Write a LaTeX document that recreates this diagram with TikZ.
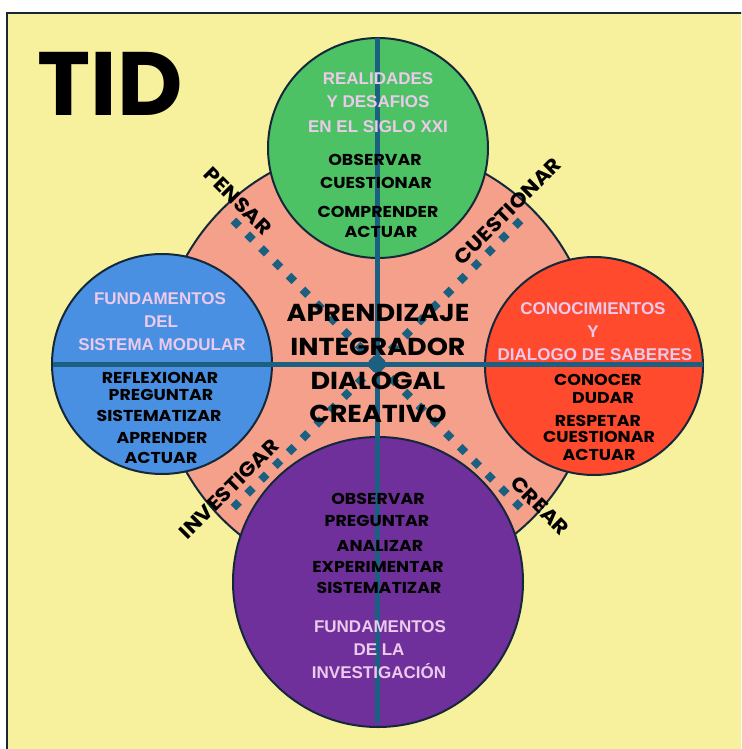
\documentclass[tikz,border=0pt]{standalone}
\usepackage{fontspec}
\setmainfont{Poppins}
\newfontfamily\wide{Poppins}[FakeStretch=1.1]
\newfontfamily\pinkfont{Liberation Sans}
\definecolor{bgyellow}{RGB}{247,240,156}
\definecolor{navy}{RGB}{20,40,58}
\definecolor{salmon}{RGB}{244,160,138}
\definecolor{cgreen}{RGB}{76,194,101}
\definecolor{cblue}{RGB}{74,144,226}
\definecolor{cred}{RGB}{255,74,46}
\definecolor{cpurple}{RGB}{112,48,156}
\definecolor{teal}{RGB}{27,96,128}
\definecolor{pinkc}{RGB}{236,202,236}
\tikzset{
  disc/.style={circle, draw=navy, line width=2pt, inner sep=0pt},
  blk/.style={font=\wide\bfseries\fontsize{15.8}{16}\selectfont, text=black, inner sep=0pt, text height=11pt, text depth=0pt},
  pnk/.style={font=\pinkfont\bfseries\fontsize{17}{18}\selectfont, text=pinkc, inner sep=0pt, text height=12pt, text depth=0pt},
  ctr/.style={font=\wide\bfseries\fontsize{24.5}{25}\selectfont, text=black, inner sep=0pt, text height=17pt, text depth=0pt},
  diag/.style={font=\wide\bfseries\fontsize{20}{21}\selectfont, text=black, inner sep=0pt, text height=14pt, text depth=0pt},
  crossline/.style={draw=teal, line width=5pt},
  dotline/.style={draw=teal, line width=8pt, dash pattern=on 8pt off 11.5pt, line cap=butt}
}
\begin{document}
\begin{tikzpicture}[x=1pt,y=-1pt]
\useasboundingbox (0,0) rectangle (741,749);
\clip (0,0) rectangle (741,749);
\fill[bgyellow] (7,13) rectangle (760,760);
\draw[navy, line width=2pt] (7,760) -- (7,13) -- (760,13);
% TID
\node[font=\bfseries\fontsize{90}{90}\selectfont, inner sep=0pt, text height=63pt, text depth=0pt] (tid) at (110,84) {TID};
% circles
\node[disc, fill=salmon, minimum size=438pt] (big) at (377,364) {};
\node[disc, fill=cgreen, minimum size=220pt] (green) at (378,148) {};
\node[disc, fill=cblue, minimum size=220pt] (blue) at (162,364) {};
\node[disc, fill=cred, minimum size=218pt] (red) at (594,366) {};
\node[disc, fill=cpurple, minimum size=290pt] (purple) at (378,582) {};
% coordinates for lines
\coordinate (c) at (377,364);
\coordinate (vt) at (377,38);
\coordinate (vb) at (377,723);
\coordinate (hl) at (53,364);
\coordinate (hr) at (703,364);
\coordinate (dtl) at (227,214);
\coordinate (dbr) at (527,514);
\coordinate (dtr) at (527,214);
\coordinate (dbl) at (227,514);
% dotted diagonals
\draw[dotline] (c) -- (dtl);
\draw[dotline] (c) -- (dbr);
\draw[dotline] (c) -- (dtr);
\draw[dotline] (c) -- (dbl);
% cross
\draw[crossline] (vt) -- (vb);
\draw[crossline] (hl) -- (hr);
% center text
\node[ctr] (t1) at (378,313) {APRENDIZAJE};
\node[ctr] (t2) at (378,347) {INTEGRADOR};
\node[ctr] (t3) at (378,381) {DIALOGAL};
\node[ctr] (t4) at (378,414) {CREATIVO};
% diagonal labels
\node[diag, rotate=-45] (pensar) at (238,201) {PENSAR};
\node[diag, rotate=45] (cuest) at (508,211) {CUESTIONAR};
\node[diag, rotate=45] (invest) at (229,489) {INVESTIGAR};
\node[diag, rotate=-45] (crear) at (540,506) {CREAR};
% green
\node[pnk] (g1) at (378,79) {REALIDADES};
\node[pnk] (g2) at (378,102) {Y DESAFIOS};
\node[pnk] (g3) at (378,126) {EN EL SIGLO XXI};
\node[blk] (g4) at (375,160) {OBSERVAR};
\node[blk] (g5) at (376,183) {CUESTIONAR};
\node[blk] (g6) at (378,212) {COMPRENDER};
\node[blk] (g7) at (381,232) {ACTUAR};
% blue
\node[pnk] (b1) at (160,298) {FUNDAMENTOS};
\node[pnk] (b2) at (161,321) {DEL};
\node[pnk] (b3) at (162,344) {SISTEMA MODULAR};
\node[blk] (b4) at (160,378) {REFLEXIONAR};
\node[blk] (b5) at (161,395) {PREGUNTAR};
\node[blk] (b6) at (159,416) {SISTEMATIZAR};
\node[blk] (b7) at (162,438) {APRENDER};
\node[blk] (b8) at (161,458) {ACTUAR};
% red
\node[pnk] (r1) at (593,308) {CONOCIMIENTOS};
\node[pnk] (r2) at (593,331) {Y};
\node[pnk] (r3) at (595,354) {DIALOGO DE SABERES};
\node[blk] (r4) at (598,380) {CONOCER};
\node[blk] (r5) at (603,398) {DUDAR};
\node[blk] (r6) at (598,421) {RESPETAR};
\node[blk] (r7) at (599,437) {CUESTIONAR};
\node[blk] (r8) at (599,455) {ACTUAR};
% purple
\node[blk] (p1) at (378,499) {OBSERVAR};
\node[blk] (p2) at (377,521) {PREGUNTAR};
\node[blk] (p3) at (380,546) {ANALIZAR};
\node[blk] (p4) at (378,567) {EXPERIMENTAR};
\node[blk] (p5) at (379,588) {SISTEMATIZAR};
\node[pnk] (p6) at (380,626) {FUNDAMENTOS};
\node[pnk] (p7) at (379,649) {DE LA};
\node[pnk] (p8) at (379,672) {INVESTIGACIÓN};
\end{tikzpicture}
\end{document}
